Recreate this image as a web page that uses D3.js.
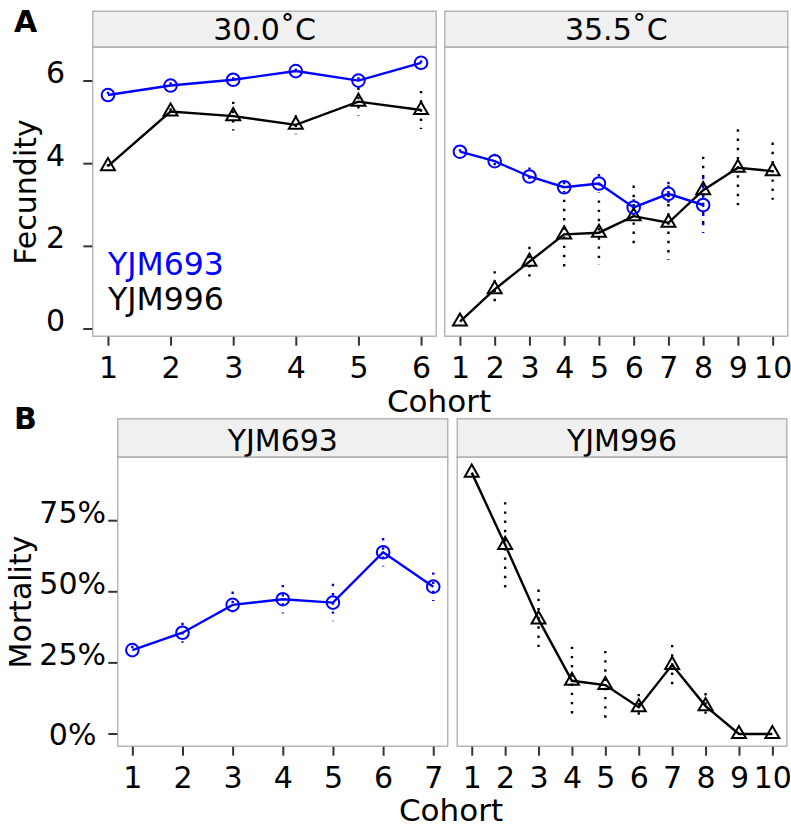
<!DOCTYPE html>
<html>
<head>
<meta charset="utf-8">
<script src="https://cdn.jsdelivr.net/npm/d3@7"></script>
<style>
  html, body { margin: 0; padding: 0; background: #fff; }
  text { font-family: "DejaVu Sans", sans-serif; }
</style>
</head>
<body>
<div id="diagram"></div>
<script>
!(function () {
  'use strict'
  // - - - - - - - - - -
  // data
  const strains = ['YJM693', 'YJM996'];
  const temps = ['30.0˚C', '35.5˚C'];

  const cohort30 = [1, 2, 3, 4, 5, 6];
  const cohort355 = [1, 2, 3, 4, 5, 6, 7, 8, 9, 10];
  const cohort355_693 = [1, 2, 3, 4, 5, 6, 7, 8];
  const cohortMort693 = [1, 2, 3, 4, 5, 6, 7];
  const cohortMort996 = [1, 2, 3, 4, 5, 6, 7, 8, 9, 10];

  // fecundity means and standard errors
  const fec30_693 = [5.66, 5.89, 6.03, 6.24, 6.01, 6.44];
  const fec30_693_se = [0.08, 0.08, 0.06, 0.06, 0.08, 0.06];
  const fec30_996 = [3.94, 5.26, 5.15, 4.94, 5.50, 5.30];
  const fec30_996_se = [0.05, 0.08, 0.35, 0.23, 0.34, 0.46];

  const fec355_693 = [4.29, 4.06, 3.69, 3.43, 3.52, 2.94, 3.27, 3.00];
  const fec355_693_se = [0.06, 0.18, 0.22, 0.13, 0.23, 0.2, 0.29, 0.68];
  const fec355_996 = [0.18, 0.96, 1.63, 2.29, 2.33, 2.73, 2.57, 3.36, 3.90, 3.82];
  const fec355_996_se = [0, 0.44, 0.36, 0.84, 0.78, 0.74, 0.9, 0.81, 0.93, 0.69];

  // mortality (fraction) means and standard errors
  const mort693 = [0.295, 0.356, 0.454, 0.474, 0.462, 0.639, 0.518];
  const mort693_se = [0.015, 0.035, 0.047, 0.05, 0.066, 0.05, 0.05];
  const mort996 = [0.919, 0.665, 0.403, 0.187, 0.172, 0.094, 0.243, 0.098, 0, 0];
  const mort996_se = [0, 0.15, 0.105, 0.12, 0.12, 0.047, 0.07, 0.046, 0, 0];

  const fecTicks = [0, 2, 4, 6];
  const mortTicks = [0, 0.25, 0.5, 0.75];

  // - - - - - - - - - -
  const W = 791, H = 824;
  const BLUE = '#0000ff', BLACK = '#000000', GRID = '#a6a6a6';
  const FS = 30;

  const svg = d3.select('#diagram').append('svg')
    .attr('width', W).attr('height', H);

  const triangle = d3.symbol().type(d3.symbolTriangle).size(84);

  function series(xs, ys, se, color, shape) {
    return xs.map(function (x, i) {
      return { x: x, y: ys[i], se: se[i], color: color, shape: shape };
    });
  }

  function drawPanel(p) {
    const x = d3.scaleLinear().domain(p.xDomain).range([p.x0, p.x1]);
    const y = p.y;
    const g = svg.append('g');

    // strip
    g.append('rect')
      .attr('x', p.x0 + 0.5).attr('y', p.s0 + 0.5)
      .attr('width', p.x1 - p.x0 - 1).attr('height', p.top - p.s0)
      .attr('fill', '#f0f0f0').attr('stroke', GRID).attr('stroke-width', 1.2);
    g.append('text')
      .attr('x', (p.x0 + p.x1) / 2).attr('y', p.stripBase)
      .attr('text-anchor', 'middle').attr('font-size', FS)
      .text(p.strip);

    // panel
    g.append('rect')
      .attr('x', p.x0 + 0.5).attr('y', p.top + 0.5)
      .attr('width', p.x1 - p.x0 - 1).attr('height', p.bottom - p.top - 1)
      .attr('fill', '#fff').attr('stroke', GRID).attr('stroke-width', 1.2);

    // x axis
    const xAxis = d3.axisBottom(x).tickValues(p.xTicks).tickSize(9).tickPadding(0)
      .tickFormat(d3.format('d'));
    const ax = g.append('g')
      .attr('transform', 'translate(0,' + p.bottom + ')')
      .call(xAxis);
    ax.select('.domain').remove();
    ax.selectAll('.tick line').attr('stroke', '#333').attr('stroke-width', 2);
    ax.selectAll('.tick text')
      .attr('y', p.xLabelBase - p.bottom).attr('dy', null)
      .attr('font-size', FS).attr('font-family', 'DejaVu Sans').attr('fill', '#000');

    // errors
    p.data.forEach(function (s) {
      g.selectAll(null).data(s.filter(function (d) { return d.se > 0; }))
        .enter().append('line')
        .attr('x1', function (d) { return x(d.x); })
        .attr('x2', function (d) { return x(d.x); })
        .attr('y1', function (d) { return y(d.y + d.se); })
        .attr('y2', function (d) { return y(d.y - d.se); })
        .attr('stroke', function (d) { return d.color; })
        .attr('stroke-width', 2.4)
        .attr('stroke-dasharray', '2.4 6.8');
    });

    // lines
    const line = d3.line().x(function (d) { return x(d.x); }).y(function (d) { return y(d.y); });
    p.data.forEach(function (s) {
      g.append('path').datum(s)
        .attr('d', line).attr('fill', 'none')
        .attr('stroke', s[0].color).attr('stroke-width', 2.4);
    });

    // points
    p.data.forEach(function (s) {
      s.forEach(function (d) {
        if (d.shape === 'circle') {
          g.append('circle')
            .attr('cx', x(d.x)).attr('cy', y(d.y)).attr('r', 6.3)
            .attr('fill', 'none').attr('stroke', d.color).attr('stroke-width', 2);
        } else {
          g.append('path')
            .attr('d', triangle)
            .attr('transform', 'translate(' + x(d.x) + ',' + y(d.y) + ')')
            .attr('fill', 'none').attr('stroke', d.color).attr('stroke-width', 2);
        }
      });
    });
  }

  function drawYAxis(y, ticks, fmt, x0, labelRight) {
    const g = svg.append('g');
    g.selectAll(null).data(ticks).enter().append('line')
      .attr('x1', x0 - 9).attr('x2', x0)
      .attr('y1', function (d) { return y(d); })
      .attr('y2', function (d) { return y(d); })
      .attr('stroke', '#333').attr('stroke-width', 2);
    g.selectAll(null).data(ticks).enter().append('text')
      .attr('x', labelRight)
      .attr('y', function (d) { return d === 0 && fmt !== String ? y(d) + 11 : y(d) + 2; })
      .attr('text-anchor', 'end').attr('font-size', FS)
      .style('white-space', 'pre')
      .text(function (d) { return d === 0 && fmt !== String ? fmt(d) + ' ' : fmt(d); });
  }

  // - - - - - - - - - -
  // A: fecundity
  const yA = d3.scaleLinear().domain([-0.186, 6.83]).range([336.7, 46.7]);
  const panelA = { s0: 10.7, top: 46.7, bottom: 336.7, stripBase: 39.5, xLabelBase: 378, y: yA };

  drawPanel(Object.assign({}, panelA, {
    x0: 92.3, x1: 436.7, xDomain: [0.75, 6.25], xTicks: cohort30, strip: temps[0],
    data: [
      series(cohort30, fec30_996, fec30_996_se, BLACK, 'triangle'),
      series(cohort30, fec30_693, fec30_693_se, BLUE, 'circle')
    ]
  }));
  drawPanel(Object.assign({}, panelA, {
    x0: 444.3, x1: 788.3, xDomain: [0.55, 10.45], xTicks: cohort355, strip: temps[1],
    data: [
      series(cohort355, fec355_996, fec355_996_se, BLACK, 'triangle'),
      series(cohort355_693, fec355_693, fec355_693_se, BLUE, 'circle')
    ]
  }));
  drawYAxis(yA, fecTicks, String, 92.3, 65);

  // legend text
  svg.append('text').attr('x', 108).attr('y', 275).attr('font-size', 31.5)
    .attr('fill', BLUE).text(strains[0]);
  svg.append('text').attr('x', 108).attr('y', 310).attr('font-size', 31.5)
    .attr('fill', BLACK).text(strains[1]);

  svg.append('text').attr('x', 439).attr('y', 411.5).attr('text-anchor', 'middle')
    .attr('font-size', 31).text('Cohort');
  svg.append('text')
    .attr('transform', 'translate(36,192) rotate(-90)')
    .attr('text-anchor', 'middle').attr('font-size', 30).text('Fecundity');
  svg.append('text').attr('x', 14).attr('y', 32).attr('font-size', 30)
    .attr('font-weight', 'bold').text('A');

  // - - - - - - - - - -
  // B: mortality
  const yB = d3.scaleLinear().domain([-0.0447, 0.975]).range([746.7, 456.7]);
  const panelB = { s0: 418.3, top: 456.7, bottom: 746.7, stripBase: 450.5, xLabelBase: 788, y: yB };

  drawPanel(Object.assign({}, panelB, {
    x0: 117.3, x1: 448.3, xDomain: [0.7, 7.3], xTicks: cohortMort693, strip: strains[0],
    data: [series(cohortMort693, mort693, mort693_se, BLUE, 'circle')]
  }));
  drawPanel(Object.assign({}, panelB, {
    x0: 456.7, x1: 787.4, xDomain: [0.55, 10.45], xTicks: cohortMort996, strip: strains[1],
    data: [series(cohortMort996, mort996, mort996_se, BLACK, 'triangle')]
  }));
  drawYAxis(yB, mortTicks, d3.format('.0%'), 117.3, 106);

  svg.append('text').attr('x', 451).attr('y', 820.5).attr('text-anchor', 'middle')
    .attr('font-size', 31).text('Cohort');
  svg.append('text')
    .attr('transform', 'translate(31,602) rotate(-90)')
    .attr('text-anchor', 'middle').attr('font-size', 30).text('Mortality');
  svg.append('text').attr('x', 14).attr('y', 429).attr('font-size', 30)
    .attr('font-weight', 'bold').text('B');
  // - - - - - - - - - -
}())
</script>
</body>
</html>
